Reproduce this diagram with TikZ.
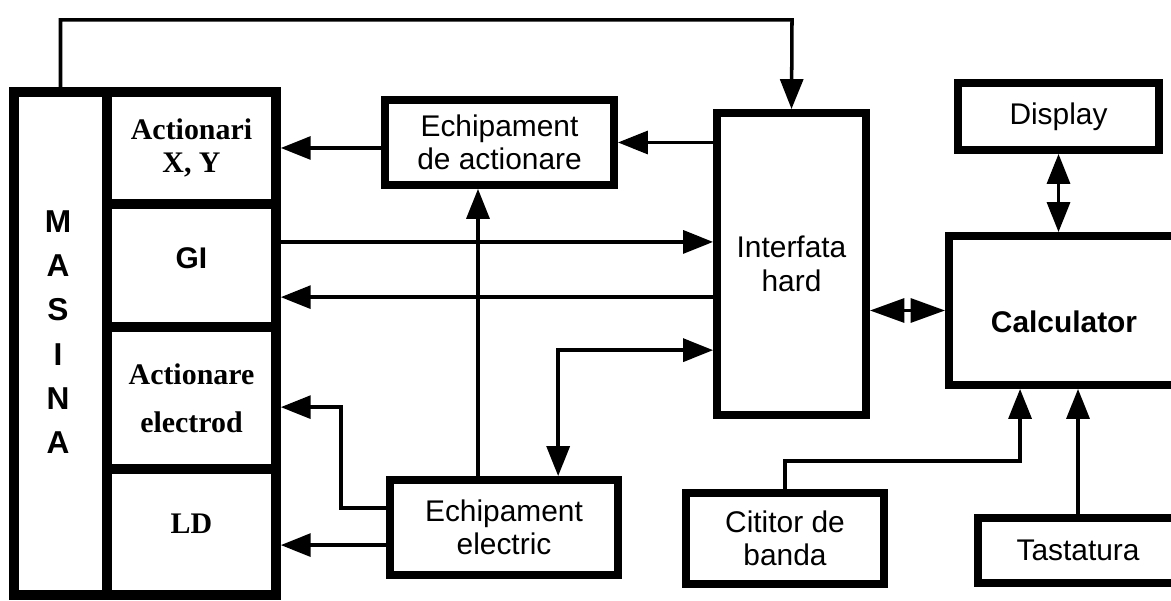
\documentclass[tikz,border=0pt]{standalone}
\usepackage{fontspec}
\setmainfont{Liberation Sans}
\newfontfamily\timesfont{Liberation Serif}
\usetikzlibrary{arrows.meta}
\newcommand\boxfont{\fontsize{8.5}{9.5}\selectfont}

\begin{document}
\begin{tikzpicture}[x=0.01cm,y=-0.01cm,
    box/.style={draw,line width=2.2pt,inner sep=0pt,align=center,font=\boxfont},
    part/.style={box,line width=2.7pt,minimum width=1.69cm,font=\boxfont\timesfont\bfseries},
    wire/.style={line width=1pt},
    fwd/.style={wire,-{Triangle[length=8.5pt,width=6.5pt]}},
    twoway/.style={wire,{Triangle[length=8.5pt,width=6.5pt]}-{Triangle[length=8.5pt,width=6.5pt]}}]
  \path[use as bounding box] (0,0) rectangle (1171,601);
  \clip (0,0) rectangle (1171,601);

  % the machine and its parts
  \node[box,line width=2.7pt,minimum width=0.93cm,minimum height=5.03cm] (masina) at (60.5,343.5) {};
  \node[font=\fontsize{9}{12.6}\selectfont\bfseries,align=center] (masinatxt) at (58,332) {M\\A\\S\\I\\N\\A};
  \node[part,minimum height=1.12cm] (actionari) at (191.5,148) {Actionari\\X, Y};
  \node[part,minimum height=1.23cm,label={[font=\boxfont\bfseries,yshift=2pt]center:GI}] (gi) at (191.5,265.5) {};
  \node[part,minimum height=1.42cm,font=\fontsize{8.5}{13.7}\timesfont\bfseries] (electrod) at (191.5,398) {Actionare\\electrod};
  \node[part,minimum height=1.26cm,label={[font=\boxfont\timesfont\bfseries,yshift=2.3pt]center:LD}] (ld) at (191.5,532) {};

  % equipment and control side
  \node[box,minimum width=2.29cm,minimum height=0.85cm] (echact) at (499.5,142.5) {Echipament\\de actionare};
  \node[box,minimum width=1.49cm,minimum height=3.02cm] (interf) at (791.5,264) {Interfata\\hard};
  \node[box,minimum width=2.28cm,minimum height=0.95cm] (echel) at (504,527.5) {Echipament\\electric};
  \node[box,minimum width=2.01cm,minimum height=0.67cm] (display) at (1058.5,116.5) {Display};
  \node[box,minimum width=2.30cm,minimum height=1.49cm,label={[font=\boxfont\bfseries,yshift=-3.2pt]center:Calculator}] (calc) at (1064,310.5) {};
  \node[box,minimum width=1.98cm,minimum height=0.91cm] (citior) at (785,538.5) {Cititor de\\banda};
  \node[box,minimum width=2.00cm,minimum height=0.65cm] (tast) at (1078,550.5) {Tastatura};

  % connections
  \coordinate (topbend) at (792,20);
  \draw[fwd] (masina.north) |- (topbend) -- (interf.north);
  \draw[fwd] (echact.west |- actionari) -- (actionari.east);
  \draw[fwd] (interf.west |- echact.east) -- (echact.east);
  \draw[fwd] ([yshift=6.7pt]gi.east) -- ([yshift=6.7pt]gi.east -| interf.west);
  \draw[fwd] ([yshift=-9pt]gi.east -| interf.west) -- ([yshift=-9pt]gi.east);
  \draw[fwd] ([xshift=-7.4pt]echel.north) -- ([xshift=-7.4pt]echel.north |- echact.south);
  \draw[fwd] ([yshift=5.5pt]echel.west) -- ++(-45,0) |- ([yshift=-2.6pt]electrod.east);
  \draw[fwd] ([yshift=-5pt]echel.west) -- ([yshift=-5pt]echel.west -| ld.east);
  \draw[twoway] ([yshift=-24.5pt]interf.west) -| ([xshift=15.4pt]echel.north);
  \draw[wire,{Triangle[length=9.8pt,width=6.8pt]}-{Triangle[length=9.8pt,width=6.8pt]}] (calc.west -| interf.east) -- (calc.west);
  \draw[twoway] (display.south) -- (display.south |- calc.north);
  \draw[fwd] (citior.north) -- ++(0,-28) -| ([xshift=-12.5pt]calc.south);
  \draw[fwd] (tast.north) -- (tast.north |- calc.south);
\end{tikzpicture}
\end{document}
